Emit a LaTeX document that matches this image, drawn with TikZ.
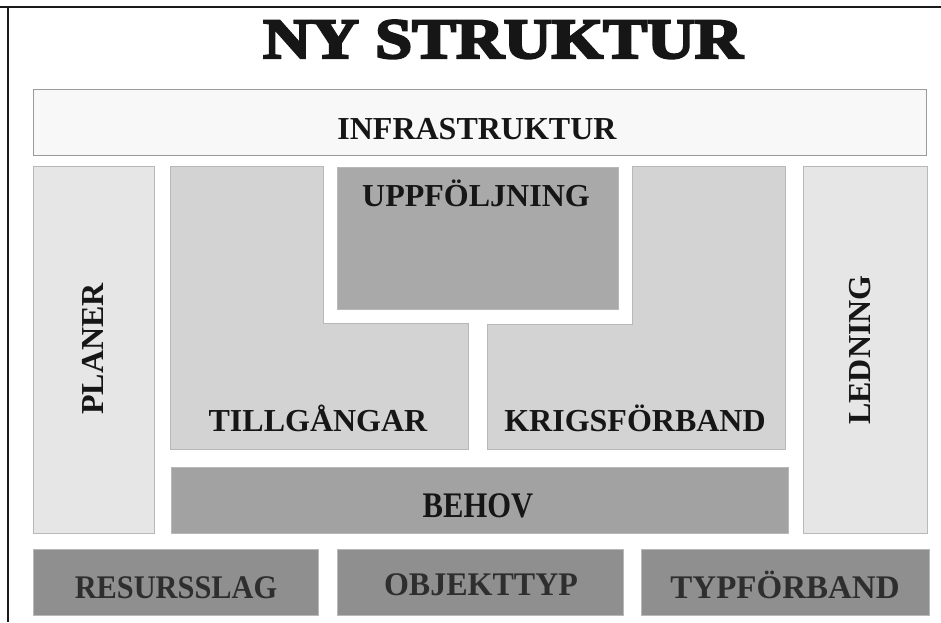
\documentclass[tikz,border=0pt]{standalone}
\usepackage{fontspec}
\setmainfont{Liberation Serif}
\newfontfamily\titlefont[BoldFeatures={FakeBold=4}]{Liberation Serif}
\definecolor{frameline}{HTML}{1A1A1A}
\definecolor{infrafill}{HTML}{F8F8F8}
\definecolor{infraline}{HTML}{9A9A9A}
\definecolor{sidefill}{HTML}{E6E6E6}
\definecolor{midfill}{HTML}{D3D3D3}
\definecolor{topfill}{HTML}{A9A9A9}
\definecolor{behovfill}{HTML}{A2A2A2}
\definecolor{basefill}{HTML}{8F8F8F}
\definecolor{boxedge}{HTML}{B8B8B8}
\definecolor{textdark}{HTML}{161616}
\definecolor{textbase}{HTML}{2E2E2E}
\tikzset{
  panel/.style={draw=boxedge, line width=0.8pt},
  lbl/.style={anchor=base, inner sep=0pt, text=textdark, font=\bfseries\fontsize{32}{36}\selectfont},
  baselbl/.style={anchor=base, inner sep=0pt, text=textbase, font=\bfseries\fontsize{33}{36}\selectfont},
}
\begin{document}
\begin{tikzpicture}[x=1pt,y=-1pt]
\useasboundingbox (0,0) rectangle (941,622);
\fill[white] (0,0) rectangle (941,622);
% frame
\draw[frameline, line width=2.2pt] (0,7) -- (941,7);
\draw[frameline, line width=2.2pt] (8,7) -- (8,622);
% title
\node[anchor=base, inner sep=0pt, text=textdark, font=\titlefont\bfseries\fontsize{57}{60}\selectfont] (title) at (503,58) {\scalebox{1.16}[1]{NY STRUKTUR}};
% infrastruktur
\draw[fill=infrafill, draw=infraline, line width=0.8pt] (33,89) rectangle (926,155);
\node[lbl] (infra) at (477,139) {INFRASTRUKTUR};
% side columns
\fill[sidefill, panel] (33,166) rectangle (154,533);
\fill[sidefill, panel] (803,166) rectangle (927,533);
\node[lbl, rotate=90] (planer) at (103,349) {PLANER};
\node[lbl, rotate=90] (ledning) at (870,350) {LEDNING};
% L-shapes
\fill[midfill, panel] (170,166) -- (323,166) -- (323,323) -- (468,323) -- (468,449) -- (170,449) -- cycle;
\fill[midfill, panel] (632,166) -- (785,166) -- (785,449) -- (487,449) -- (487,324) -- (632,324) -- cycle;
\node[lbl] (tillg) at (318,431) {TILLGÅNGAR};
\node[lbl] (krigs) at (635,431) {KRIGSFÖRBAND};
% uppfoljning
\fill[topfill, panel] (337,167) rectangle (618,309);
\node[lbl] (uppf) at (476,206) {UPPFÖLJNING};
% behov
\fill[behovfill, panel] (171,467) rectangle (788,533);
\node[lbl, font=\bfseries\fontsize{36}{40}\selectfont] (behov) at (478,517) {\scalebox{0.85}[1]{BEHOV}};
% base row
\fill[basefill, panel] (33,549) rectangle (318,615);
\fill[basefill, panel] (337,549) rectangle (623,615);
\fill[basefill, panel] (641,549) rectangle (929,615);
\node[baselbl] (resurs) at (176,598) {\scalebox{0.92}[1]{RESURSSLAG}};
\node[baselbl] (objekt) at (481,595) {\scalebox{0.97}[1]{OBJEKTTYP}};
\node[baselbl] (typf) at (785,598) {TYPFÖRBAND};
\end{tikzpicture}
\end{document}
